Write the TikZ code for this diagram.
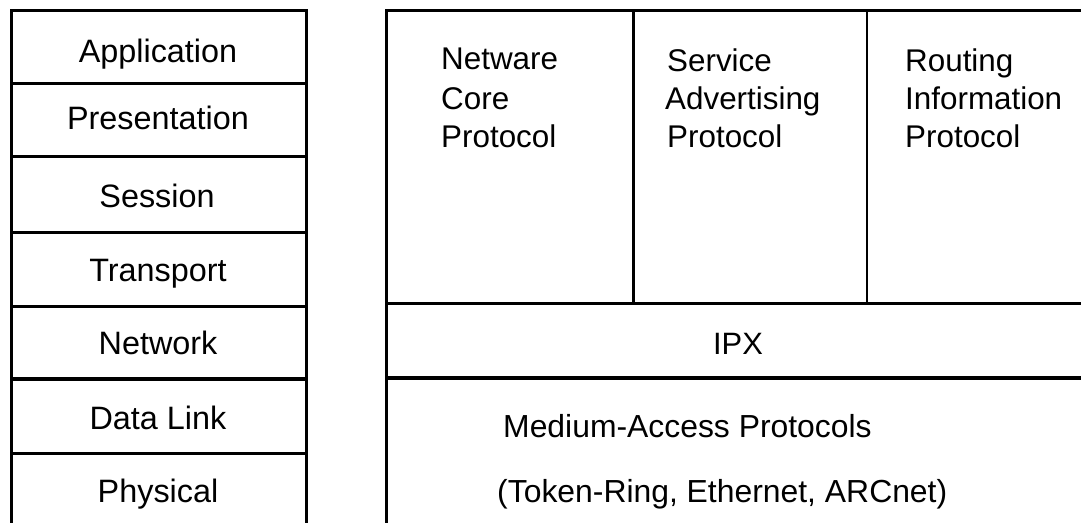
\documentclass[tikz,border=0pt]{standalone}
\usepackage{fontspec}
\setmainfont{Liberation Sans}
\begin{document}
\begin{tikzpicture}[x=1bp,y=-1bp,
  frame/.style={line width=3bp, line cap=butt, line join=miter},
  thinframe/.style={line width=2.2bp},
  lbl/.style={inner sep=0pt, font=\fontsize{32.5}{39}\selectfont},
  rlbl/.style={inner sep=0pt, anchor=base west, font=\fontsize{31.5}{38}\selectfont},
  blbl/.style={inner sep=0pt, anchor=base west, font=\fontsize{32}{38}\selectfont}]
\useasboundingbox (0,0) rectangle (1081,523);
\fill[white] (0,0) rectangle (1081,523);
% left OSI column
\draw[frame] (11,523) -- (11,11) -- (306,11) -- (306,523);
\foreach \yy in {84,157,233,307,379,453}
  \draw[frame] (11,\yy) -- (306,\yy);
\node[lbl, anchor=base] (app) at (158,63) {Application};
\node[lbl, anchor=base] (pres) at (158,130) {Presentation};
\node[lbl, anchor=base] (sess) at (157,208) {Session};
\node[lbl, anchor=base] (trans) at (158,282) {Transport};
\node[lbl, anchor=base] (net) at (158,355) {Network};
\node[lbl, anchor=base] (dl) at (158,429) {Data Link};
\node[lbl, anchor=base] (phys) at (158,502) {Physical};
% right NetWare stack
\draw[frame] (386,523) -- (386,11) -- (1081,11);
\draw[frame] (386,304) -- (1081,304);
\draw[frame] (386,378) -- (1081,378);
\draw[frame] (633,11) -- (633,304);
\draw[thinframe] (867,11) -- (867,304);
\node[rlbl] (ncp1) at (441,70) {Netware};
\node[rlbl] (ncp2) at (441,110) {Core};
\node[rlbl] (ncp3) at (441,148) {Protocol};
\node[rlbl] (sap1) at (667,72) {Service};
\node[rlbl] (sap2) at (665,110) {Advertising};
\node[rlbl] (sap3) at (667,148) {Protocol};
\node[rlbl] (rip1) at (905,72) {Routing};
\node[rlbl] (rip2) at (905,110) {Information};
\node[rlbl] (rip3) at (905,148) {Protocol};
\node[inner sep=0pt, anchor=base, font=\fontsize{31}{37}\selectfont] (ipx) at (738,355) {IPX};
\node[blbl] (mac1) at (503,437) {Medium-Access Protocols};
\node[blbl] (mac2) at (497,502) {(Token-Ring, Ethernet, ARCnet)};
\end{tikzpicture}
\end{document}
